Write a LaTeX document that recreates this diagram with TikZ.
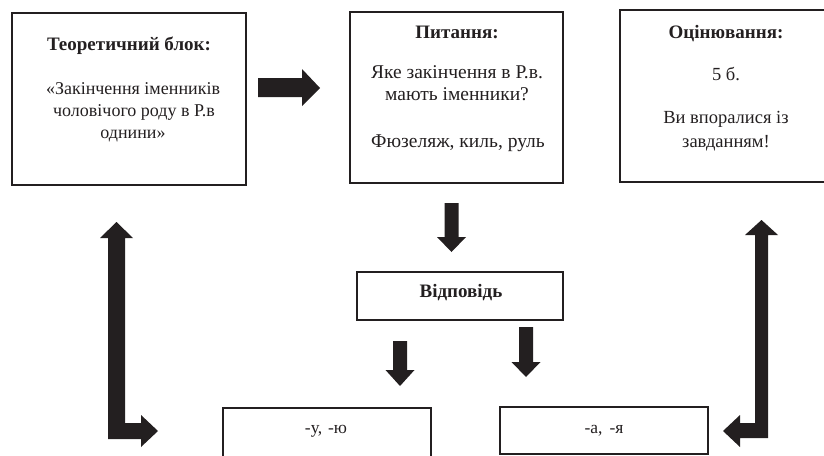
\documentclass[tikz,border=0pt]{standalone}
\usepackage{fontspec}
\setmainfont{Liberation Serif}
\definecolor{ink}{RGB}{35,31,32}
\tikzset{
  box/.style={draw=ink, line width=2.2pt, fill=none, inner sep=0pt},
  txt/.style={anchor=base, inner sep=0pt, text=ink, font=\fontsize{18}{21}\selectfont},
  txtb/.style={txt, font=\fontsize{19.5}{22}\selectfont},
  txtc/.style={txt, font=\fontsize{18.5}{21}\selectfont},
  ttl/.style={txt, font=\fontsize{19}{22}\selectfont\bfseries},
  small/.style={txt, font=\fontsize{17.5}{20}\selectfont},
  arrowfill/.style={fill=ink},
}
\newcommand\fatdown[4]{\fill[arrowfill] (#1-7,#2) -- (#1+7,#2) -- (#1+7,#3) -- (#1+14.5,#3) -- (#1,#4) -- (#1-14.5,#3) -- (#1-7,#3) -- cycle;}
\begin{document}
\begin{tikzpicture}[x=1pt,y=-1pt]
\useasboundingbox (0,0) rectangle (824,455);
\clip (0,0) rectangle (824,455);
% boxes
\node[box, minimum width=234pt, minimum height=172pt] (b1) at (129,99) {};
\node[box, minimum width=213pt, minimum height=171pt] (b2) at (456.5,97.5) {};
\node[box, minimum width=212pt, minimum height=172pt] (b3) at (726,96) {};
\node[box, minimum width=206pt, minimum height=48pt] (ans) at (460,296) {};
\node[box, minimum width=208pt, minimum height=70pt] (u) at (327,443) {};
\node[box, minimum width=208pt, minimum height=47pt] (a) at (604,430.5) {};
% texts box 1
\node[ttl] (t1) at (129,50) {Теоретичний блок:};
\node[txt] (t1a) at (133,94) {«Закінчення іменників};
\node[txt] (t1b) at (134,116) {чоловічого роду в Р.в};
\node[txt] (t1c) at (133,138) {однини»};
% texts box 2
\node[ttl] (t2) at (457,38) {Питання:};
\node[txtb] (t2a) at (457,78) {Яке закінчення в Р.в.};
\node[txtb] (t2b) at (457,100) {мають іменники?};
\node[txtb] (t2c) at (458,147) {Фюзеляж, киль, руль};
% texts box 3
\node[ttl] (t3) at (726,38) {Оцінювання:};
\node[txtc] (t3a) at (726,80) {5 б.};
\node[txtc] (t3b) at (726,123) {Ви впоралися із};
\node[txtc] (t3c) at (726,147) {завданням!};
% answer texts
\node[ttl] (tans) at (461,297) {Відповідь};
\node[small] (tu) at (326,433) {-у,\hspace{6pt}-ю};
\node[small] (ta) at (604,433) {-а,\hspace{7pt}-я};
% right arrow between b1 and b2
\fill[arrowfill] (258,78) -- (302,78) -- (302,69) -- (320,88) -- (302,106) -- (302,97) -- (258,97) -- cycle;
% down arrows
\fatdown{451.5}{203}{237}{252}
\fatdown{400}{341}{370}{386}
\fatdown{526}{327}{362}{377}
% left L arrow
\fill[arrowfill] (116.5,222) -- (133,238) -- (125,238) -- (125,423) -- (141,423) -- (141,415) -- (158,431) -- (141,447) -- (141,439) -- (108,439) -- (108,238) -- (100,238) -- cycle;
% right L arrow
\fill[arrowfill] (761.5,220) -- (778,235) -- (768,235) -- (768,438) -- (740,438) -- (740,447) -- (723,431) -- (740,415) -- (740,423) -- (755,423) -- (755,235) -- (745,235) -- cycle;
\end{tikzpicture}
\end{document}
